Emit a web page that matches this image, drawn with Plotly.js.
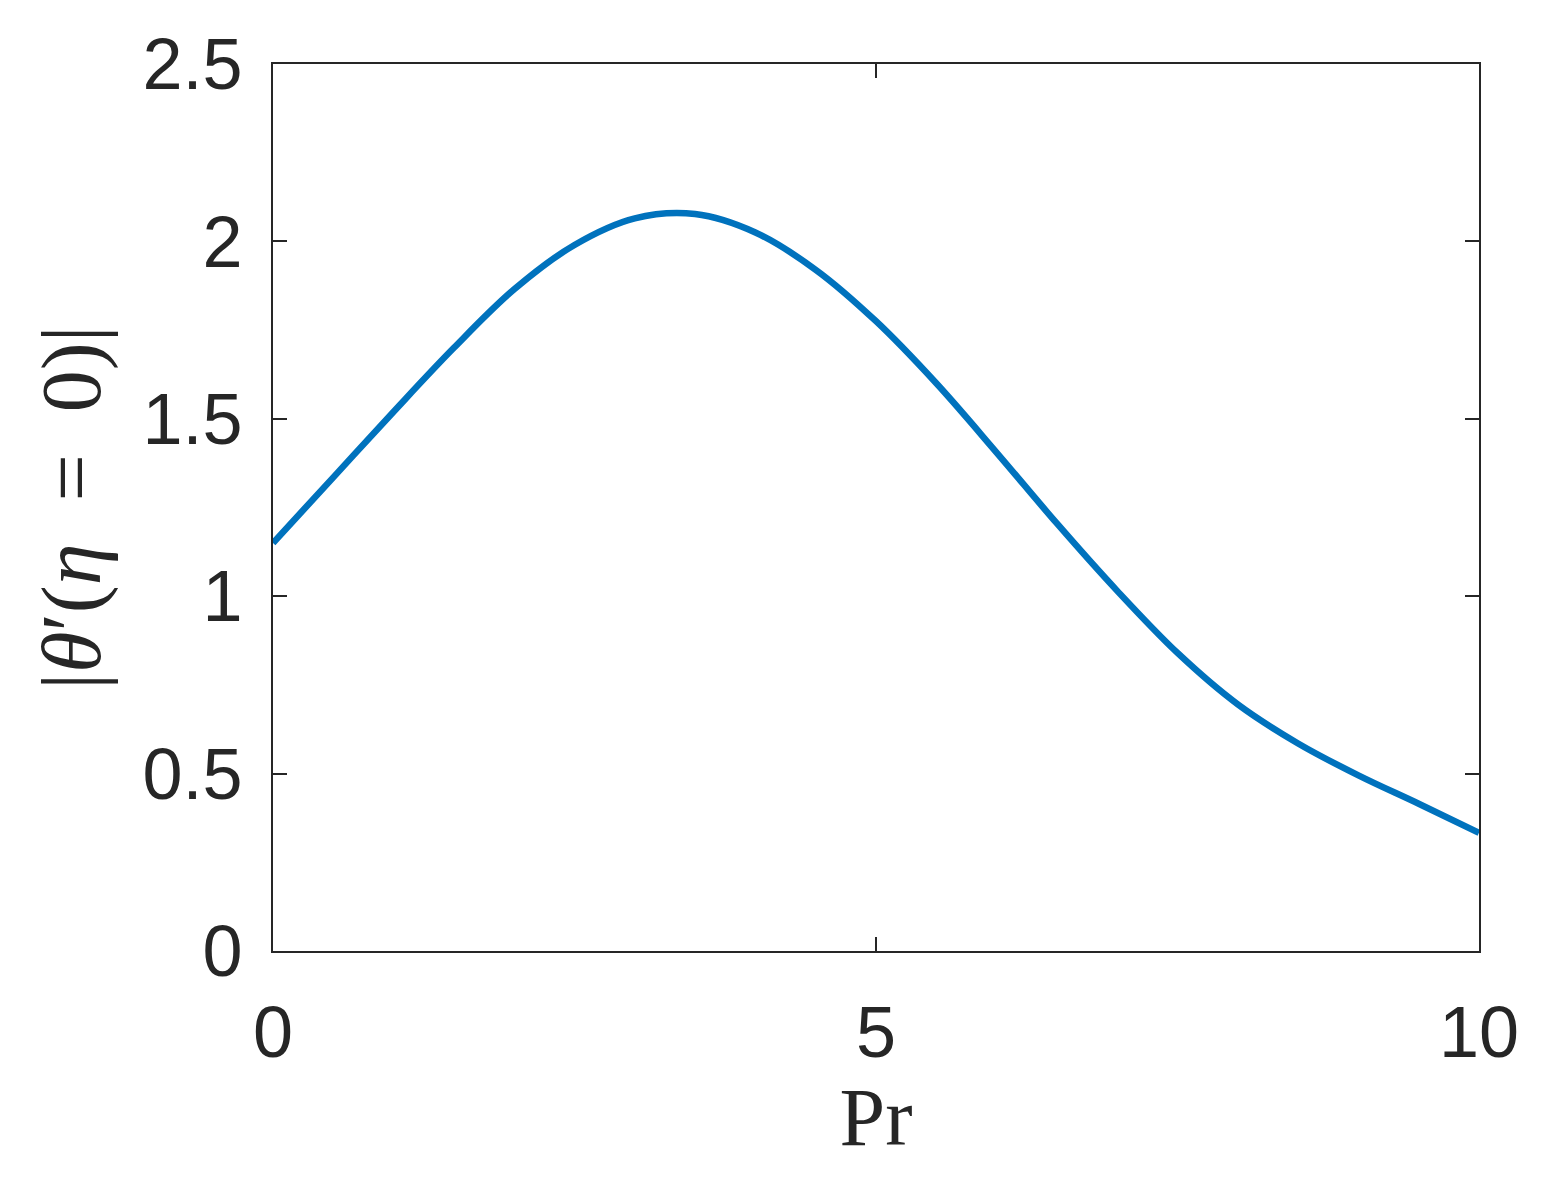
<!DOCTYPE html>
<html>
<head>
<meta charset="utf-8">
<script src="https://cdn.plot.ly/plotly-3.0.1.min.js"></script>
<style>
  html, body { margin: 0; padding: 0; background: #fff; }
  #chart { width: 1561px; height: 1184px; }
</style>
</head>
<body>
<div id="chart"></div>
<script>
// values
var prandtl = [0, 0.5, 1, 1.5, 2, 2.5, 3, 3.5, 4, 4.5, 5, 5.5, 6, 6.5, 7, 7.5, 8, 8.5, 9, 9.5, 10];
var gradient = [1.15, 1.335, 1.52, 1.70, 1.865, 1.99, 2.065, 2.077, 2.025, 1.92, 1.775, 1.60, 1.405, 1.205, 1.015, 0.84, 0.695, 0.585, 0.495, 0.415, 0.333];

var xTicks = [0, 5, 10];
var yTicks = [0, 0.5, 1, 1.5, 2, 2.5];

var axisColor = '#262626';
var tickFont = {family: 'Liberation Sans, Arial, sans-serif', size: 72, color: axisColor};
var serif = 'Liberation Serif, DejaVu Serif, serif';

var trace = {
  x: prandtl,
  y: gradient,
  type: 'scatter',
  mode: 'lines',
  line: {color: '#0072BD', width: 6.5, shape: 'spline', smoothing: 1},
  hoverinfo: 'x+y'
};

var axisCommon = {
  showgrid: false,
  zeroline: false,
  showline: true,
  linecolor: axisColor,
  linewidth: 2,
  mirror: 'allticks',
  ticks: 'inside',
  ticklen: 14,
  tickwidth: 2,
  tickcolor: axisColor,
  tickfont: tickFont,
  tickmode: 'array'
};

var layout = {
  width: 1561,
  height: 1184,
  margin: {l: 273, r: 82, t: 64, b: 233},
  paper_bgcolor: '#fff',
  plot_bgcolor: '#fff',
  showlegend: false,
  xaxis: Object.assign({}, axisCommon, {
    range: [0, 10],
    tickvals: xTicks,
    ticktext: xTicks.map(String),
    ticklabelstandoff: 18,
    title: {text: 'Pr', font: {family: serif, size: 82, color: axisColor}, standoff: 16}
  }),
  yaxis: Object.assign({}, axisCommon, {
    range: [0, 2.5],
    tickvals: yTicks,
    ticktext: yTicks.map(String),
    ticklabelstandoff: 14,
    title: {text: '|<i>θ</i>′(<i>η</i>  =  0)|', font: {family: serif, size: 84, color: axisColor}, standoff: 14}
  })
};

Plotly.newPlot('chart', [trace], layout, {displayModeBar: false, displaylogo: false});
</script>
</body>
</html>
